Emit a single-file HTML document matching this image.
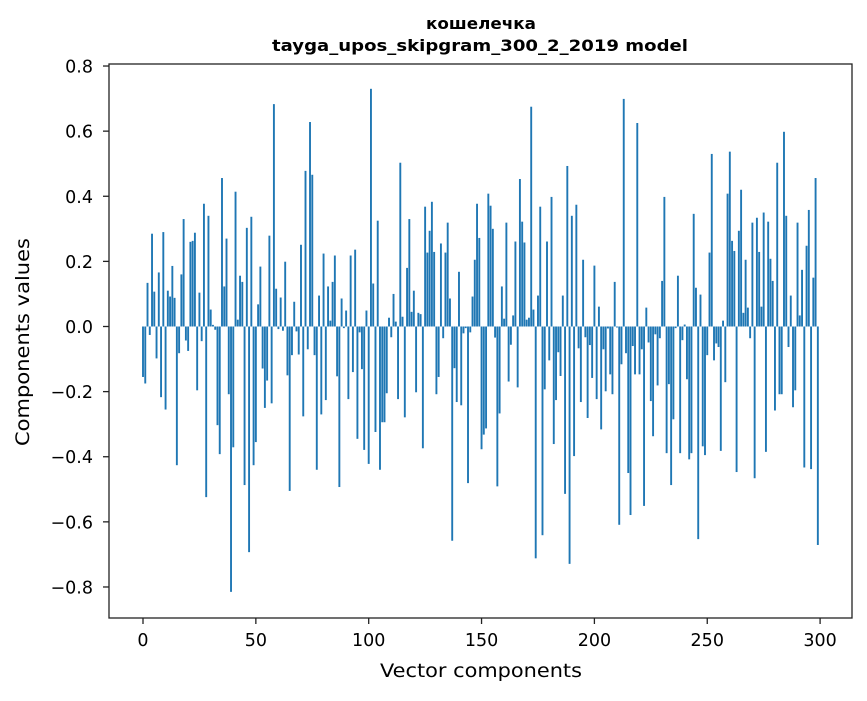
<!DOCTYPE html>
<html><head><meta charset="utf-8">
<style>
body{margin:0;background:#fff;}
svg text{font-family:"DejaVu Sans","Liberation Sans",sans-serif;fill:#000;}
</style></head>
<body>
<svg id="chart" width="867" height="696" xmlns="http://www.w3.org/2000/svg">
<rect x="0" y="0" width="867" height="696" fill="#fff"/>
<text x="481" y="29" text-anchor="middle" font-size="16" font-weight="bold" textLength="110" lengthAdjust="spacingAndGlyphs">кошелечка</text>
<text x="480" y="51" text-anchor="middle" font-size="16" font-weight="bold" textLength="416" lengthAdjust="spacingAndGlyphs">tayga_upos_skipgram_300_2_2019 model</text>
<g id="bars"></g>
<g id="axes"></g>
<rect x="109" y="64" width="743" height="554" fill="none" stroke="#222" stroke-width="1.3"/>
<text x="481" y="677" text-anchor="middle" font-size="19" textLength="202" lengthAdjust="spacingAndGlyphs">Vector components</text>
<text transform="translate(29,342) rotate(-90)" text-anchor="middle" font-size="19" textLength="208" lengthAdjust="spacingAndGlyphs">Components values</text>
</svg>
<script>
const values = [
-0.155,-0.175,0.134,-0.026,0.285,0.107,-0.098,0.166,-0.217,0.29,
-0.255,0.11,0.092,0.186,0.088,-0.426,-0.082,0.16,0.33,-0.043,
-0.075,0.26,0.263,0.288,-0.196,0.104,-0.045,0.377,-0.524,0.34,
0.052,0.005,-0.01,-0.303,-0.392,0.456,0.123,0.27,-0.208,-0.815,
-0.371,0.414,0.021,0.156,0.137,-0.487,0.303,-0.693,0.337,-0.426,
-0.355,0.068,0.184,-0.129,-0.25,-0.166,0.279,-0.236,0.683,0.116,
-0.008,0.089,-0.013,0.199,-0.15,-0.505,-0.088,0.076,-0.015,-0.086,
0.251,-0.276,0.478,-0.07,0.628,0.466,-0.088,-0.44,0.095,-0.27,
0.224,-0.226,0.123,0.018,0.137,0.218,-0.153,-0.493,0.086,-0.005,
0.049,-0.223,0.218,-0.14,0.236,-0.345,-0.018,-0.131,-0.379,0.049,
-0.422,0.73,0.132,-0.324,0.325,-0.44,-0.294,-0.294,-0.205,0.027,
-0.033,0.1,0.015,-0.223,0.503,0.03,-0.279,0.18,0.33,0.045,
0.11,-0.202,0.042,0.038,-0.374,0.368,0.227,0.294,0.383,0.229,
-0.208,-0.155,0.255,-0.036,0.227,0.319,0.086,-0.658,-0.128,-0.232,
0.168,-0.242,-0.021,-0.005,-0.481,-0.018,0.092,0.205,0.377,0.272,
-0.377,-0.332,-0.313,0.408,0.371,0.3,-0.034,-0.491,-0.267,0.123,
0.024,0.319,-0.169,-0.056,0.034,0.261,-0.187,0.453,0.322,0.258,
0.021,0.027,0.675,0.052,-0.712,0.095,0.368,-0.641,-0.193,0.261,
-0.104,0.398,-0.361,-0.226,-0.079,-0.152,0.095,-0.514,0.493,-0.729,
0.34,-0.398,0.374,-0.067,-0.232,0.205,-0.033,-0.281,-0.057,-0.158,
0.187,-0.223,0.061,-0.316,-0.07,-0.199,-0.006,-0.147,-0.208,0.137,
-0.003,-0.609,-0.116,0.699,-0.082,-0.45,-0.579,-0.06,-0.147,0.625,
-0.147,-0.07,-0.551,0.058,-0.049,-0.229,-0.337,-0.024,-0.181,-0.036,
0.14,0.398,-0.389,-0.177,-0.487,-0.285,-0.005,0.156,-0.389,-0.042,
0.006,-0.162,-0.408,-0.389,0.346,0.119,-0.653,0.098,-0.368,-0.395,
-0.088,0.227,0.53,-0.104,-0.052,-0.063,-0.382,0.018,-0.171,0.408,
0.537,0.263,0.232,-0.447,0.294,0.42,0.042,0.205,0.058,-0.036,
0.319,-0.466,0.334,0.229,0.061,0.35,-0.385,0.322,0.208,0.14,
-0.258,0.503,-0.208,-0.208,0.598,0.34,-0.063,0.095,-0.248,-0.196,
0.319,0.034,0.174,-0.433,0.248,0.358,-0.438,0.15,0.456,-0.671
];
const xTicks = [0,50,100,150,200,250,300];
const yTicks = [0.8,0.6,0.4,0.2,0.0,-0.2,-0.4,-0.6,-0.8];
const yTickLabels = ["0.8","0.6","0.4","0.2","0.0","\u22120.2","\u22120.4","\u22120.6","\u22120.8"];

const NS = "http://www.w3.org/2000/svg";
function xs(i){ return 143 + (i) * 2.257; }
function ys(v){ return 326.5 - v * 325.6; }

const barsG = document.getElementById('bars');
values.forEach((v, i) => {
  const r = document.createElementNS(NS, 'rect');
  const w = 1.9;
  const y0 = ys(0), y1 = ys(v);
  r.setAttribute('x', xs(i) - w / 2);
  r.setAttribute('y', Math.min(y0, y1));
  r.setAttribute('width', w);
  r.setAttribute('height', Math.abs(y1 - y0));
  r.setAttribute('fill', '#1f77b4');
  
  
  barsG.appendChild(r);
});

const axesG = document.getElementById('axes');
xTicks.forEach(t => {
  const l = document.createElementNS(NS, 'line');
  l.setAttribute('x1', xs(t)); l.setAttribute('x2', xs(t));
  l.setAttribute('y1', 618); l.setAttribute('y2', 624);
  l.setAttribute('stroke', '#222'); l.setAttribute('stroke-width', '1.3');
  
  
  axesG.appendChild(l);
  const tx = document.createElementNS(NS, 'text');
  tx.setAttribute('x', xs(t)); tx.setAttribute('y', 646);
  tx.setAttribute('text-anchor', 'middle'); tx.setAttribute('font-size', '17.5');
  tx.textContent = String(t);
  
  
  axesG.appendChild(tx);
});
yTicks.forEach((t, k) => {
  const l = document.createElementNS(NS, 'line');
  l.setAttribute('x1', 103); l.setAttribute('x2', 109);
  l.setAttribute('y1', ys(t)); l.setAttribute('y2', ys(t));
  l.setAttribute('stroke', '#222'); l.setAttribute('stroke-width', '1.3');
  
  
  axesG.appendChild(l);
  const tx = document.createElementNS(NS, 'text');
  tx.setAttribute('x', 93); tx.setAttribute('y', ys(t) + 6.5);
  tx.setAttribute('text-anchor', 'end'); tx.setAttribute('font-size', '17.5');
  tx.textContent = yTickLabels[k];
  
  
  axesG.appendChild(tx);
});
</script>
</body></html>
